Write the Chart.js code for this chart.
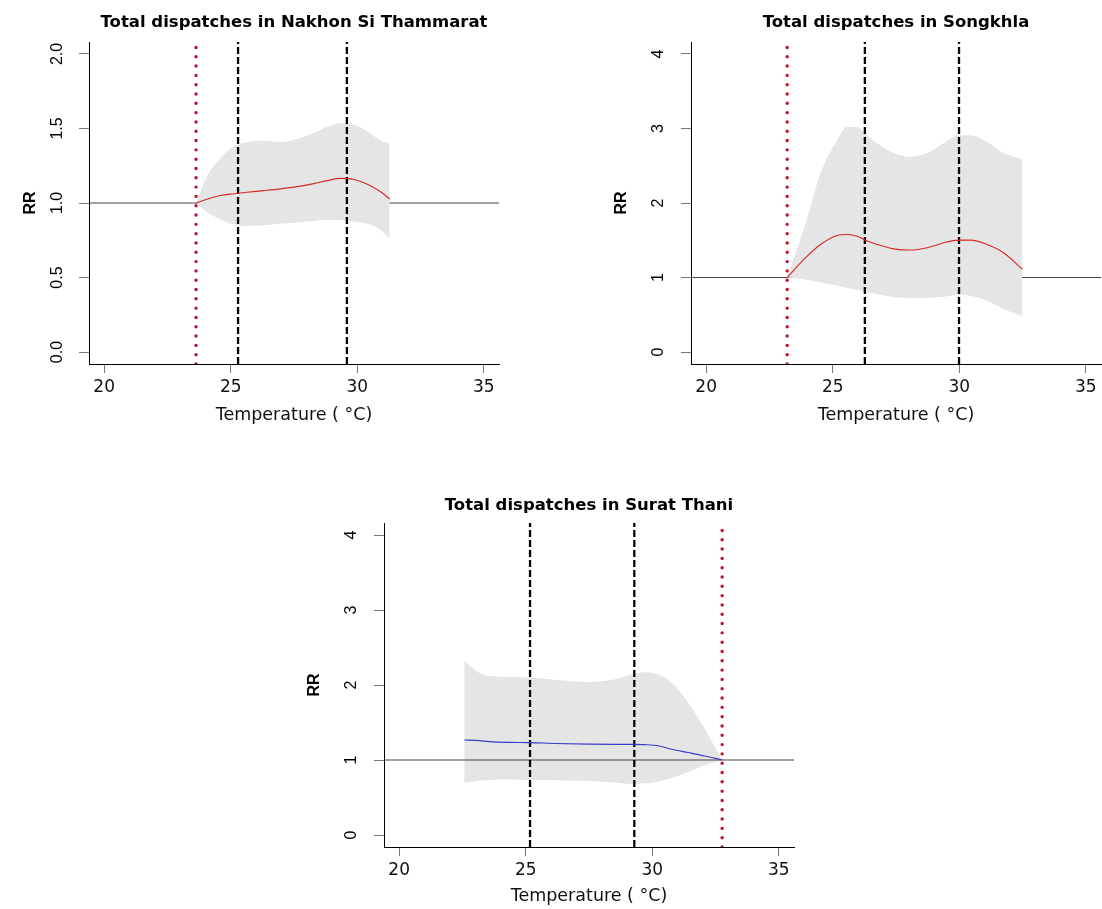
<!DOCTYPE html>
<html><head><meta charset="utf-8">
<script src="https://cdn.jsdelivr.net/npm/chart.js@4.4.1/dist/chart.umd.min.js"></script>
<style>
html,body{margin:0;padding:0;background:#fff;width:1102px;height:909px;overflow:hidden;}
canvas{position:absolute;}
</style></head><body>
<canvas id="c1" width="500" height="430" style="left:0;top:0"></canvas>
<canvas id="c2" width="500" height="430" style="left:602px;top:0"></canvas>
<canvas id="c3" width="500" height="428" style="left:295px;top:481px"></canvas>
<script>
// ---- data ----
const xTicks = [20, 25, 30, 35];
const xLimits = [19.4, 35.6];
const yTicksNakhon = [0, 0.5, 1, 1.5, 2];
const yTickLabelsNakhon = ["0.0", "0.5", "1.0", "1.5", "2.0"];
const yLimitsNakhon = [-0.08, 2.08];
const yTicksOther = [0, 1, 2, 3, 4];
const yTickLabelsOther = ["0", "1", "2", "3", "4"];
const yLimitsOther = [-0.16, 4.16];
const titles = ["Total dispatches in Nakhon Si Thammarat", "Total dispatches in Songkhla", "Total dispatches in Surat Thani"];

const tempNakhon  = [23.63, 24.06, 24.59, 25.12, 25.65, 26.30, 26.96, 27.63, 28.28, 28.81, 29.34, 29.87, 30.40, 30.92, 31.28];
const rrNakhon    = [1.00, 1.025, 1.05, 1.062, 1.072, 1.083, 1.095, 1.11, 1.13, 1.15, 1.165, 1.158, 1.125, 1.075, 1.027];
const upperNakhon = [1.00, 1.18, 1.30, 1.38, 1.41, 1.42, 1.41, 1.43, 1.47, 1.51, 1.535, 1.525, 1.48, 1.42, 1.40];
const lowerNakhon = [1.00, 0.94, 0.89, 0.855, 0.845, 0.85, 0.86, 0.87, 0.88, 0.887, 0.885, 0.875, 0.86, 0.82, 0.76];
const refNakhon = 23.63;
const cutsNakhon = [25.29, 29.59];

const tempSongkhla  = [23.20, 23.86, 24.52, 25.18, 25.57, 25.97, 26.27, 26.75, 27.41, 28.07, 28.73, 29.38, 29.99, 30.44, 31.10, 31.75, 32.50];
const rrSongkhla    = [1.00, 1.244, 1.444, 1.564, 1.577, 1.555, 1.502, 1.444, 1.385, 1.369, 1.40, 1.467, 1.502, 1.502, 1.444, 1.333, 1.11];
const upperSongkhla = [1.00, 1.65, 2.40, 2.85, 3.02, 3.02, 2.93, 2.80, 2.67, 2.62, 2.67, 2.80, 2.91, 2.91, 2.82, 2.67, 2.58];
const lowerSongkhla = [1.00, 0.977, 0.933, 0.889, 0.86, 0.835, 0.809, 0.775, 0.74, 0.724, 0.725, 0.742, 0.773, 0.756, 0.689, 0.577, 0.48];
const refSongkhla = 23.20;
const cutsSongkhla = [26.27, 29.99];

const tempSurat  = [22.57, 23.16, 23.56, 24.30, 25.17, 26.15, 27.47, 28.53, 29.18, 29.71, 30.24, 30.77, 31.42, 32.08, 32.76];
const rrSurat    = [1.267, 1.258, 1.245, 1.235, 1.232, 1.22, 1.212, 1.209, 1.209, 1.205, 1.19, 1.143, 1.099, 1.053, 1.00];
const upperSurat = [2.32, 2.165, 2.12, 2.11, 2.10, 2.07, 2.04, 2.076, 2.14, 2.17, 2.14, 2.03, 1.765, 1.41, 1.00];
const lowerSurat = [0.70, 0.725, 0.735, 0.74, 0.735, 0.73, 0.72, 0.70, 0.68, 0.69, 0.71, 0.76, 0.84, 0.93, 1.00];
const refSurat = 32.76;
const cutsSurat = [25.17, 29.29];

// ---- drawing ----
const BAND = '#e5e5e5';
const pts = (xs, ys) => xs.map((x, i) => ({x: x, y: ys[i]}));

function build(id, p) {
  const lineOver = p.lineOver;
  const datasets = [
    {data: pts(p.temp, p.upper), borderWidth: 0, pointRadius: 0, fill: '+1', backgroundColor: BAND,
     cubicInterpolationMode: 'monotone', order: lineOver ? 6 : 5},
    {data: pts(p.temp, p.lower), borderWidth: 0, pointRadius: 0, fill: false,
     cubicInterpolationMode: 'monotone', order: lineOver ? 6 : 5},
    {data: [{x: xLimits[0], y: 1}, {x: xLimits[1], y: 1}], borderColor: '#444', borderWidth: 1,
     pointRadius: 0, fill: false, order: lineOver ? 4 : 7}
  ];
  p.cuts.forEach(c => datasets.push({data: [{x: c, y: p.yLim[0]}, {x: c, y: p.yLim[1]}], borderColor: '#000',
    borderWidth: 2.3, borderDash: [7, 3], pointRadius: 0, fill: false, order: 3}));
  datasets.push({data: pts(p.temp, p.rr), borderColor: p.color, borderWidth: 1.1, pointRadius: 0, fill: false,
    cubicInterpolationMode: 'monotone', order: 2});
  datasets.push({data: [{x: p.ref, y: p.yLim[0]}, {x: p.ref, y: p.yLim[1]}], borderColor: '#c0102a',
    borderWidth: 3.4, borderDash: [0.01, 9.3], borderCapStyle: 'round', pointRadius: 0, fill: false, order: 1});

  new Chart(document.getElementById(id), {
    type: 'line',
    data: {datasets: datasets},
    options: {
      responsive: false, animation: false, devicePixelRatio: 1,
      layout: {padding: {left: 0, right: 1, top: 0, bottom: 0}},
      plugins: {
        legend: {display: false}, tooltip: {enabled: false},
        title: {display: true, text: p.title, fullSize: false, color: '#000',
          font: {family: 'DejaVu Sans', size: 16.5, weight: 'bold'},
          padding: {top: p.titleTop, bottom: 42 - 19.8 - p.titleTop}}
      },
      scales: {
        x: {type: 'linear', min: xLimits[0], max: xLimits[1],
          afterBuildTicks: s => { s.ticks = xTicks.map(v => ({value: v})); },
          afterFit: s => { s.height = p.xAxisH; },
          grid: {drawOnChartArea: false, drawTicks: true, tickLength: 9, color: '#777'},
          border: {display: true, color: '#000', width: 1},
          ticks: {font: {family: 'DejaVu Sans', size: 17}, color: '#111', padding: 4, maxRotation: 0, minRotation: 0, autoSkip: false},
          title: {display: true, text: 'Temperature ( °C)', color: '#111', font: {family: 'DejaVu Sans', size: 17.5},
            padding: {top: 0, bottom: p.xTitlePad}}
        },
        y: {type: 'linear', min: p.yLim[0], max: p.yLim[1],
          afterBuildTicks: s => { s.ticks = p.yTicks.map(v => ({value: v})); },
          afterFit: s => { s.width = 89; },
          grid: {drawOnChartArea: false, drawTicks: true, tickLength: 10, color: '#777'},
          border: {display: true, color: '#000', width: 1},
          ticks: {font: {family: 'Liberation Sans', size: 16}, color: '#000', minRotation: 90, maxRotation: 90,
            crossAlign: 'center', padding: p.yTickPad, autoSkip: false,
            callback: (v, i) => p.yLabels[i]},
          title: {display: true, text: 'RR', color: '#000', font: {family: 'Liberation Sans', size: 16, weight: 'bold'},
            padding: {top: p.yTitlePad, bottom: 0}}
        }
      }
    }
  });
}

build('c1', {title: titles[0], temp: tempNakhon, rr: rrNakhon, upper: upperNakhon, lower: lowerNakhon,
  ref: refNakhon, cuts: cutsNakhon, yTicks: yTicksNakhon, yLabels: yTickLabelsNakhon, yLim: yLimitsNakhon,
  color: '#d42a2a', lineOver: false, xAxisH: 66, xTitlePad: 4.5, yTickPad: 9.9, yTitlePad: 21, titleTop: 12.6});
build('c2', {title: titles[1], temp: tempSongkhla, rr: rrSongkhla, upper: upperSongkhla, lower: lowerSongkhla,
  ref: refSongkhla, cuts: cutsSongkhla, yTicks: yTicksOther, yLabels: yTickLabelsOther, yLim: yLimitsOther,
  color: '#d42a2a', lineOver: false, xAxisH: 66, xTitlePad: 4.5, yTickPad: 17.5, yTitlePad: 10.4, titleTop: 12.6});
build('c3', {title: titles[2], temp: tempSurat, rr: rrSurat, upper: upperSurat, lower: lowerSurat,
  ref: refSurat, cuts: cutsSurat, yTicks: yTicksOther, yLabels: yTickLabelsOther, yLim: yLimitsOther,
  color: '#3a3ac8', lineOver: true, xAxisH: 62, xTitlePad: 1.8, yTickPad: 17.5, yTitlePad: 10.4, titleTop: 15});
</script>
</body></html>
